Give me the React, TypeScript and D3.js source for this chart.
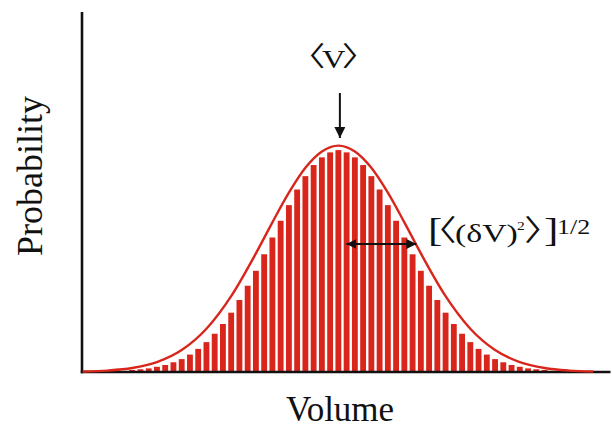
import React from "react";
import * as d3 from "d3";

// Histogram bins (offset from the mean, in bin widths) and their relative probabilities
const binOffsets: number[] = d3.range(-25, 26);
const binHalf: number[] = [
  0.98, 0.97, 0.948, 0.914, 0.865, 0.806, 0.737, 0.668, 0.594, 0.52, 0.447, 0.381, 0.318,
  0.262, 0.212, 0.169, 0.132, 0.102, 0.077, 0.057, 0.043, 0.031, 0.023, 0.016, 0.012, 0.009,
];
const binValues: number[] = binOffsets.map((k) => binHalf[Math.abs(k)]);

// Smooth envelope: positions (bin widths) and relative heights
const curveX: number[] = [-31, -28, -25, -22, -19, -16, -13, -10, -8, -6, -4, -2, 0, 2, 4, 6, 8, 10, 13, 16, 19, 22, 25, 28, 30.9];
const curveY: number[] = [0.002, 0.0063, 0.0175, 0.0437, 0.0968, 0.191, 0.335, 0.524, 0.661, 0.792, 0.902, 0.974, 1.0, 0.974, 0.902, 0.792, 0.661, 0.524, 0.335, 0.191, 0.0968, 0.0437, 0.0175, 0.0063, 0.0022];

const W = 612;
const H = 428;
const RED = "#d9261c";
const SERIF = "'Liberation Serif', 'Times New Roman', 'DejaVu Serif', serif";
const BRACKET = "'Noto Sans CJK JP', 'Noto Sans CJK SC', 'DejaVu Sans', sans-serif";
const SX = 1.3; // horizontal stretch of the annotation lettering

export default function App() {
  const x = d3.scaleLinear().domain([-31.09, 33.0]).range([82, 610.5]);
  const y = d3.scaleLinear().domain([0, 1.59]).range([372, 12]);
  const pitch = x(1) - x(0);
  const barW = pitch * 0.71;

  const line = d3
    .line<number>()
    .x((_, i) => x(curveX[i]))
    .y((d) => y(d))
    .curve(d3.curveMonotoneX);

  const meanX = x(0);
  const arrowY = 244;
  const bs = 27; // bracket glyph size
  const gx = (sx: number) => sx / SX; // page x -> stretched-group x

  return (
    <svg
      width={W}
      height={H}
      style={{ position: "absolute", left: 0, top: 0, background: "#fff" }}
      fontFamily={SERIF}
    >
      <defs>
        <marker id="head" viewBox="0 0 10 10" refX="10" refY="5" markerWidth="10" markerHeight="10" markerUnits="userSpaceOnUse" orient="auto-start-reverse">
          <path d="M0,0 L10,5 L0,10 z" fill="#111" />
        </marker>
        <marker id="headBig" viewBox="0 0 10 10" refX="10" refY="5" markerWidth="13" markerHeight="11" markerUnits="userSpaceOnUse" orient="auto">
          <path d="M0,0 L10,5 L0,10 z" fill="#111" />
        </marker>
      </defs>

      {/* histogram bars */}
      {binValues.map((v, i) => (
        <rect
          key={i}
          x={x(binOffsets[i]) - barW / 2}
          y={y(v)}
          width={barW}
          height={y(0) - y(v)}
          fill={RED}
        />
      ))}

      {/* axes */}
      <line x1={x.range()[0]} x2={x.range()[0]} y1={y.range()[1]} y2={y.range()[0] + 1.2} stroke="#111" strokeWidth={2.6} />
      <line x1={x.range()[0] - 1.2} x2={x.range()[1]} y1={y.range()[0]} y2={y.range()[0]} stroke="#111" strokeWidth={2.6} />

      {/* envelope */}
      <path d={line(curveY) ?? ""} fill="none" stroke={RED} strokeWidth={2.4} />

      {/* mean marker */}
      <g transform={`translate(${meanX + 2},68) scale(${SX},1)`}>
        <text x={-38.5} y={0} fontSize={25} fill="#111">
          <tspan fontFamily={BRACKET} fontSize={bs} dy={-2}>〈</tspan>
          <tspan dx={-0.1 * bs} dy={2}>V</tspan>
          <tspan fontFamily={BRACKET} fontSize={bs} dx={-0.1 * bs} dy={-2}>〉</tspan>
        </text>
      </g>
      <line x1={meanX + 1.5} x2={meanX + 1.5} y1={93} y2={138} stroke="#111" strokeWidth={2} markerEnd="url(#headBig)" />

      {/* spread marker */}
      <line x1={meanX + 8} x2={meanX + 78} y1={arrowY} y2={arrowY} stroke="#111" strokeWidth={2} markerStart="url(#head)" markerEnd="url(#head)" />
      <g transform={`scale(${SX},1)`}>
        <text fontSize={26} fill="#111">
          <tspan x={gx(428)} y={241} fontSize={33}>[</tspan>
          <tspan x={gx(419)} y={241.5} fontFamily={BRACKET} fontSize={29}>〈</tspan>
          <tspan x={gx(455)} y={242}>(δV)</tspan>
          <tspan x={gx(517)} y={230} fontSize={12}>2</tspan>
          <tspan x={gx(524)} y={241.5} fontFamily={BRACKET} fontSize={29}>〉</tspan>
          <tspan x={gx(544)} y={241} fontSize={33}>]</tspan>
          <tspan x={gx(557)} y={234} fontSize={20}>1/2</tspan>
        </text>
      </g>

      {/* axis titles */}
      <text x={340} y={421} fontSize={35} textAnchor="middle" fill="#111">
        Volume
      </text>
      <text transform="translate(42,176) rotate(-90)" fontSize={36} textAnchor="middle" fill="#111">
        Probability
      </text>
    </svg>
  );
}
